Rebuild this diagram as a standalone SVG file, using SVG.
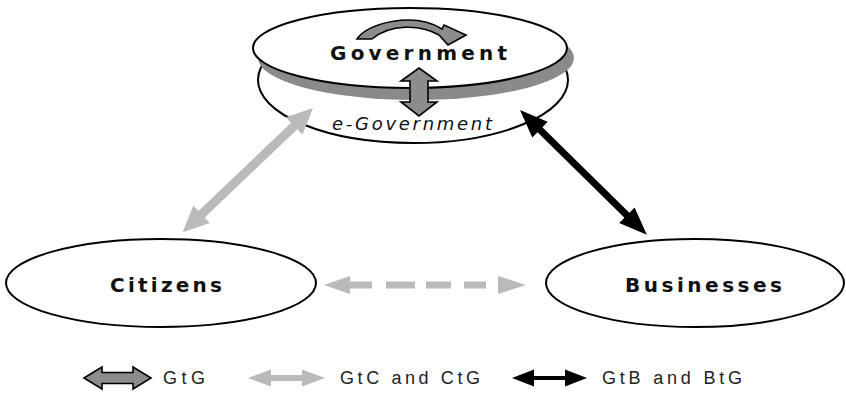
<svg xmlns="http://www.w3.org/2000/svg" width="846" height="394" viewBox="0 0 846 394">
  <style>
    .node { fill: #ffffff; stroke: #000000; stroke-width: 2; }
    .label { font-family: "DejaVu Sans", Verdana, sans-serif; font-weight: bold; font-size: 20px; fill: #111111; }
    .ital { font-family: "DejaVu Sans", Verdana, sans-serif; font-style: italic; font-size: 18px; fill: #111111; }
    .leg { font-family: "Liberation Sans", Arial, sans-serif; font-size: 18px; fill: #222222; }
    .gtg { fill: #8c8c8c; stroke: #000000; stroke-width: 1.6; stroke-linejoin: miter; }
    .gtc { fill: #bababa; }
    .gtb { fill: #000000; }
  </style>
  <rect width="846" height="394" fill="#ffffff"/>

  <g id="node-government">
    <ellipse class="node" cx="413" cy="80" rx="155" ry="63"/>
    <ellipse cx="416" cy="58" rx="158" ry="42" fill="#8a8a8a"/>
    <ellipse class="node" cx="410" cy="48" rx="157" ry="40"/>
    <text class="label" x="330" y="60" textLength="177" lengthAdjust="spacing">Government</text>
    <text class="ital" x="332" y="130" textLength="160" lengthAdjust="spacing">e-Government</text>
    <path class="gtg" d="M357,39 C368,22 415,12 442,29 L444,25 L466,35 L448,45 L439,35 C420,24 390,24 372,39 Z"/>
  </g>

  <g id="node-citizens">
    <ellipse class="node" cx="161" cy="283" rx="155" ry="44"/>
    <text class="label" x="110" y="292" textLength="112" lengthAdjust="spacing">Citizens</text>
  </g>

  <g id="node-businesses">
    <ellipse class="node" cx="695" cy="283" rx="149" ry="44"/>
    <text class="label" x="625" y="292" textLength="157" lengthAdjust="spacing">Businesses</text>
  </g>

  <g id="connectors">
    <polygon class="gtg" points="419,68 437,81 428,81 428,102 437,102 419,116 401,102 410,102 410,81 401,81"/>
    <polygon class="gtc" transform="translate(313,108) rotate(136.35)" points="0,0 26,-12 26,-4.5 154,-4.5 154,-12 180,0 154,12 154,4.5 26,4.5 26,12"/>
    <polygon class="gtb" transform="translate(520,110) rotate(44.55)" points="0,0 28,-11 28,-3.5 150,-3.5 150,-11 178,0 150,11 150,3.5 28,3.5 28,11"/>
    <g class="gtc">
      <polygon points="324,285 350,276 350,294"/>
      <rect x="349" y="281.5" width="23" height="7"/>
      <rect x="386" y="281.5" width="29" height="7"/>
      <rect x="426" y="281.5" width="25" height="7"/>
      <rect x="464" y="281.5" width="22" height="7"/>
      <polygon points="526,285 498,276 498,294"/>
    </g>
  </g>

  <g id="legend">
    <polygon class="gtg" points="84,378 102,367 102,372.5 133,372.5 133,367 151,378 133,389 133,383.5 102,383.5 102,389"/>
    <text class="leg" x="163" y="384" textLength="42" lengthAdjust="spacing">GtG</text>
    <polygon class="gtc" points="248,378 271,369.5 271,375 302,375 302,369.5 325,378 302,386.5 302,381 271,381 271,386.5"/>
    <text class="leg" x="340" y="384" textLength="140" lengthAdjust="spacing">GtC and CtG</text>
    <polygon class="gtb" points="512,378 534,369.5 534,376 565,376 565,369.5 587,378 565,386.5 565,380 534,380 534,386.5"/>
    <text class="leg" x="602" y="384" textLength="140" lengthAdjust="spacing">GtB and BtG</text>
  </g>
</svg>
